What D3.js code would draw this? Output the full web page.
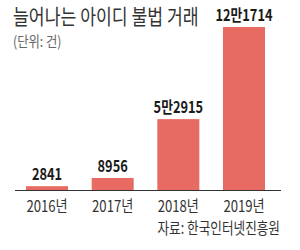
<!DOCTYPE html>
<html><head><meta charset="utf-8">
<script src="https://cdn.jsdelivr.net/npm/d3@7"></script>
<style>html,body{margin:0;padding:0;background:#fff;}svg{display:block;}</style>
</head><body>
<script>
const categories = ["2016년", "2017년", "2018년", "2019년"];
const values = [2841, 8956, 52915, 121714];
const valueLabels = ["2841", "8956", "5만2915", "12만1714"];
const title = "늘어나는 아이디 불법 거래";
const unit = "(단위: 건)";
const source = "자료: 한국인터넷진흥원";

const W = 300, H = 250;
const svg = d3.select("body").append("svg").attr("width", W).attr("height", H);
const font = "'Noto Sans CJK KR', 'Noto Sans', sans-serif";

const x = d3.scaleBand().domain(categories).range([13, 278]).paddingInner(0.36).paddingOuter(0.198);
const y = d3.scaleLinear().domain([0, d3.max(values)]).range([190, 27]);

// title
svg.append("text").attr("transform", "translate(13,24) scale(0.82,1)")
  .attr("font-family", font).attr("font-size", 21).attr("fill", "#333")
  .text(title);
svg.append("text").attr("transform", "translate(13,47) scale(0.85,1)")
  .attr("font-family", font).attr("font-size", 14.5).attr("fill", "#666")
  .text(unit);

// bars
svg.selectAll("rect.bar").data(values).enter().append("rect")
  .attr("class", "bar")
  .attr("x", (d, i) => x(categories[i]))
  .attr("width", x.bandwidth())
  .attr("y", d => y(d))
  .attr("height", d => y(0) - y(d))
  .attr("fill", "#e76b62");

// value labels
svg.selectAll("text.val").data(values).enter().append("text")
  .attr("class", "val")
  .attr("transform", (d, i) => `translate(${x(categories[i]) + x.bandwidth() / 2},${y(d) - 6}) scale(0.8,1)`)
  .attr("text-anchor", "middle")
  .attr("font-family", font).attr("font-weight", "bold").attr("font-size", 16)
  .attr("fill", "#1a1a1a")
  .text((d, i) => valueLabels[i]);

// axis
const axis = svg.append("g").attr("transform", `translate(0,${y(0)})`)
  .call(d3.axisBottom(x).tickSize(0).tickPadding(0));
axis.select(".domain").remove();
axis.selectAll("text").remove();
svg.append("line").attr("x1", 15).attr("x2", 281).attr("y1", y(0) + 0.5).attr("y2", y(0) + 0.5)
  .attr("stroke", "#333").attr("stroke-width", 1);

svg.selectAll("text.cat").data(categories).enter().append("text")
  .attr("class", "cat")
  .attr("transform", d => `translate(${x(d) + x.bandwidth() / 2},212) scale(0.82,1)`)
  .attr("text-anchor", "middle")
  .attr("font-family", font).attr("font-size", 16).attr("fill", "#333")
  .text(d => d);

svg.append("text").attr("transform", "translate(280,234) scale(0.79,1)")
  .attr("text-anchor", "end")
  .attr("font-family", font).attr("font-size", 16).attr("fill", "#333")
  .text(source);
</script>
</body></html>
